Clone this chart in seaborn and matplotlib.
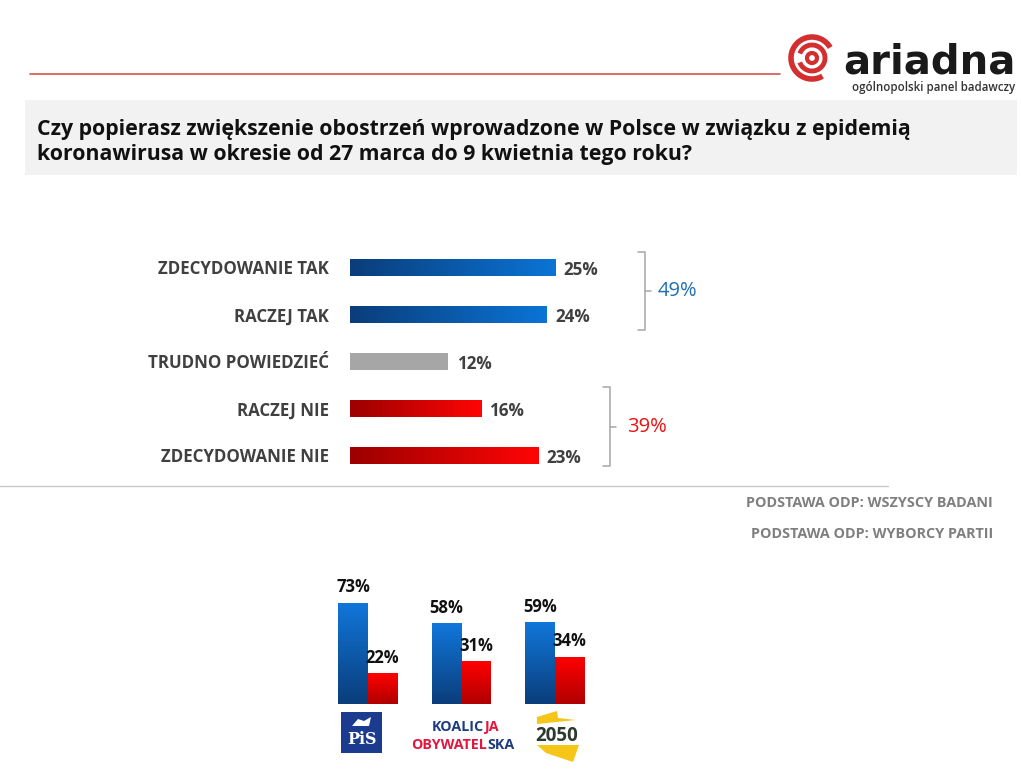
import numpy as np
import pandas as pd
import matplotlib
matplotlib.use("Agg")
import matplotlib.pyplot as plt
from matplotlib.patches import Rectangle, Arc, Circle, Polygon
import seaborn as sns

sns.set_theme(style="white")
plt.rcParams['font.family'] = ['Open Sans', 'DejaVu Sans']

# dane
kategorie = ["ZDECYDOWANIE TAK", "RACZEJ TAK", "TRUDNO POWIEDZIEĆ", "RACZEJ NIE", "ZDECYDOWANIE NIE"]
wartosci = [25, 24, 12, 16, 23]
suma_tak = 49
suma_nie = 39

partie = ["PiS", "KO", "2050"]
popiera = [73, 58, 59]
nie_popiera = [22, 31, 34]

tytul = ("Czy popierasz zwiększenie obostrzeń wprowadzone w Polsce w związku z epidemią\n"
         "koronawirusa w okresie od 27 marca do 9 kwietnia tego roku?")

W, H = 1021, 771
fig = plt.figure(figsize=(W / 100, H / 100), dpi=100)
fig.patch.set_facecolor("white")

# tlo / dekoracje w pikselach
bg = fig.add_axes([0, 0, 1, 1], zorder=0)
bg.set_xlim(0, W)
bg.set_ylim(H, 0)
bg.axis("off")


def ax_px(left, top, width, height):
    return fig.add_axes([left / W, 1 - (top + height) / H, width / W, height / H], zorder=2)


def gradient(ax, patch, c_start, c_end, horizontal=True):
    x, y = patch.get_x(), patch.get_y()
    w, h = patch.get_width(), patch.get_height()
    cmap = matplotlib.colors.LinearSegmentedColormap.from_list("g", [c_start, c_end])
    grad = np.linspace(0, 1, 256)
    img = grad.reshape(1, -1) if horizontal else grad.reshape(-1, 1)
    im = ax.imshow(img, extent=[x, x + w, y, y + h], origin="lower", aspect="auto",
                   cmap=cmap, zorder=patch.get_zorder() + 0.1)
    im.set_clip_path(patch)


# naglowek
bg.plot([30, 780], [74, 74], color="#d9534f", lw=1.2)
bg.add_patch(Rectangle((25, 100), 992, 75, color="#f2f2f2", lw=0))
bg.text(37, 142, tytul, fontsize=15.3, fontweight="bold", color="#111111",
        va="center", ha="left", linespacing=1.3)

# logo ariadna
cx, cy = 812, 58
bg.add_patch(Arc((cx, cy), 42, 42, theta1=60, theta2=330, color="#d32f2f", lw=4))
bg.add_patch(Arc((cx, cy), 26, 26, theta1=200, theta2=520, color="#d32f2f", lw=3.5))
bg.add_patch(Circle((cx, cy), 5, fc="none", ec="#d32f2f", lw=3))
bg.text(843, 62, "ariadna", fontsize=29, fontweight="bold", color="#1a1a1a",
        family="DejaVu Sans", va="center", ha="left")
bg.text(1015, 87, "ogólnopolski panel badawczy", fontsize=8.3, fontweight="semibold",
        color="#333333", va="center", ha="right")

# wykres gorny
ax1 = ax_px(350, 244, 328, 235)
sns.barplot(x=wartosci, y=kategorie, hue=kategorie, orient="h", width=0.36,
            palette=["#0b4a8f", "#0b4a8f", "#a6a6a6", "#c00000", "#c00000"],
            legend=False, ax=ax1, saturation=1)
for i, p in enumerate(ax1.patches):
    p.set_edgecolor("none")
    if i < 2:
        gradient(ax1, p, "#0a3d7a", "#0b74d6")
    elif i > 2:
        gradient(ax1, p, "#9c0000", "#ff0505")
ax1.set_xlim(0, 40)
ax1.set_ylim(4.5, -0.5)
for i, v in enumerate(wartosci):
    ax1.text(v + 1.0, i + 0.05, f"{v}%", va="center", ha="left", fontsize=12.3,
             fontweight="bold", color="#404040")
ax1.set_xlabel("")
ax1.set_ylabel("")
ax1.set_xticks([])
ax1.tick_params(axis="y", length=0, pad=15)
for t in ax1.get_yticklabels():
    t.set_fontweight("bold")
    t.set_fontsize(12.2)
    t.set_color("#404040")
sns.despine(ax=ax1, left=True, bottom=True)
ax1.patch.set_alpha(0)


# klamry
def klamra(x, y0, y1, kolor, tekst, tx):
    ym = (y0 + y1) / 2
    bg.plot([x - 7, x, x, x - 7], [y0, y0, y1, y1], color="#a6a6a6", lw=1.1)
    bg.plot([x, x + 6], [ym, ym], color="#a6a6a6", lw=1.1)
    bg.text(tx, ym, tekst, color=kolor, fontsize=14.5, va="center", ha="left")


klamra(645, 252, 330, "#1f6fb5", f"{suma_tak}%", 658)
klamra(610, 387, 466, "#ee1111", f"{suma_nie}%", 627)

# linia i podstawy
bg.plot([0, 888], [486, 486], color="#c8c8c8", lw=1)
bg.text(993, 503, "PODSTAWA ODP: WSZYSCY BADANI", fontsize=10.4, fontweight="bold",
        color="#7f7f7f", ha="right", va="center")
bg.text(993, 534, "PODSTAWA ODP: WYBORCY PARTII", fontsize=10.4, fontweight="bold",
        color="#7f7f7f", ha="right", va="center")

# wykres dolny
df = pd.DataFrame({
    "partia": partie * 2,
    "odp": ["tak"] * 3 + ["nie"] * 3,
    "wartosc": popiera + nie_popiera,
})
ax2 = ax_px(321, 593, 280.5, 110.8)
sns.barplot(data=df, x="partia", y="wartosc", hue="odp", palette=["#0b5fb8", "#e00000"],
            width=0.63, gap=0, dodge=True, legend=False, ax=ax2, saturation=1)
bary = list(ax2.patches)
for j, p in enumerate(bary):
    p.set_edgecolor("none")
    if j < 3:
        gradient(ax2, p, "#0a3d7a", "#1177db", horizontal=False)
    else:
        gradient(ax2, p, "#b00000", "#ff0000", horizontal=False)
ax2.set_xlim(-0.5, 2.5)
ax2.set_ylim(0, 80)
for j, p in enumerate(bary):
    v = p.get_height()
    ax2.text(p.get_x() + p.get_width() / 2, v + 4.5, f"{v:.0f}%", ha="center", va="bottom",
             fontsize=12, fontweight="bold", color="#111111", clip_on=False)
ax2.axis("off")
ax2.patch.set_alpha(0)

# logotypy partii
bg.add_patch(Rectangle((341, 712), 41, 41, color="#1b3b8f", lw=0))
bg.text(361.5, 740, "PiS", color="white", fontsize=11.5, fontweight="bold",
        family="DejaVu Serif", ha="center", va="center")
bg.add_patch(Polygon([[352, 726], [358, 719], [364, 721], [371, 717], [369, 726]],
                     color="white", lw=0))
kw = dict(fontsize=10.3, fontweight="bold", va="center")
bg.text(484, 727, "KOALIC", color="#1f3b80", ha="right", **kw)
bg.text(484, 727, "JA", color="#e3173e", ha="left", **kw)
bg.text(487, 745, "OBYWATEL", color="#e3173e", ha="right", **kw)
bg.text(487, 745, "SKA", color="#1f3b80", ha="left", **kw)
bg.add_patch(Polygon([[537, 717], [557, 711], [558, 718], [576, 720], [537, 724]],
                     color="#f5c518", lw=0))
bg.add_patch(Polygon([[537, 745], [579, 745], [573, 762], [546, 753]], color="#f5c518", lw=0))
bg.text(557, 736, "2050", color="#2d3a2e", fontsize=13.5, fontweight="bold", ha="center",
        va="center")

fig.savefig("out.png", dpi=100)
